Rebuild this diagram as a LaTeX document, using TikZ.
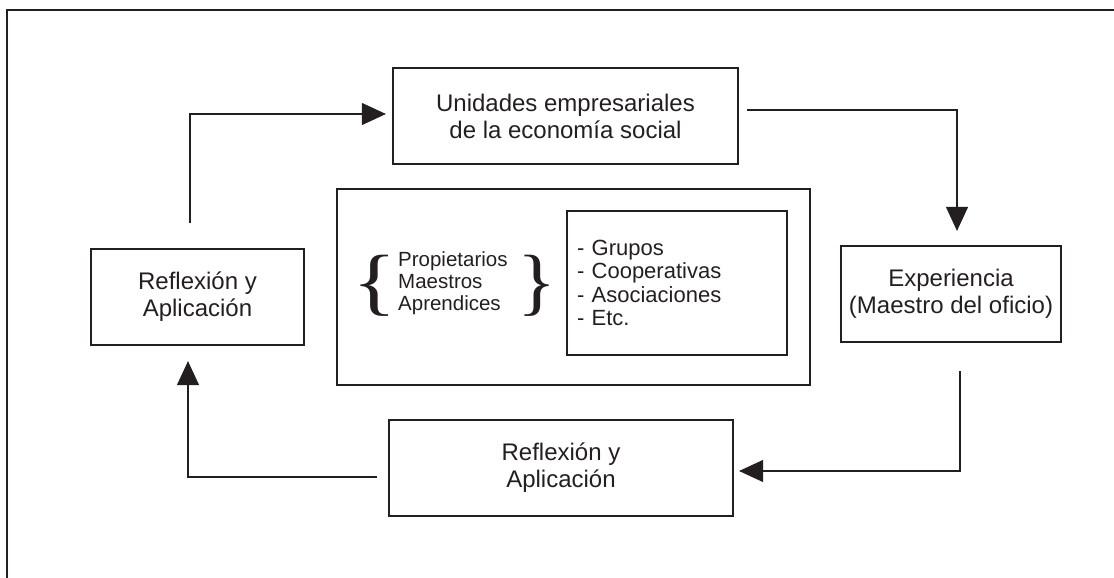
\documentclass[tikz,border=0pt]{standalone}
\usepackage{fontspec}
\usepackage{graphicx}
\setmainfont{Liberation Sans}
\newfontfamily\bracefont{Liberation Serif}
\usetikzlibrary{arrows.meta}
\definecolor{ink}{RGB}{35,31,32}
\begin{document}
\begin{tikzpicture}[x=1pt,y=-1pt,
  every node/.style={text=ink},
  boxnode/.style={draw=ink, line width=2.2pt, align=center, inner sep=0pt, font=\fontsize{24}{27}\selectfont},
  plainbox/.style={draw=ink, line width=2.2pt, inner sep=0pt},
  conn/.style={draw=ink, line width=1.1pt, -{Triangle[length=24pt,width=22pt]}},
  bracenode/.style={inner sep=0pt, font=\bracefont\fontsize{74}{74}\selectfont}]
\useasboundingbox (0,0) rectangle (1114,578);
\draw[ink, line width=2.7pt] (7,578) -- (7,10) -- (1114,10);

\node[boxnode, minimum width=345pt, minimum height=96pt] (unid) at (565.5,116) {Unidades empresariales\\de la economía social};
\node[boxnode, minimum width=213pt, minimum height=96pt] (left) at (197.5,297) {Reflexión y\\Aplicación};
\node[boxnode, minimum width=220pt, minimum height=96pt] (exp) at (951,294) {Experiencia\\(Maestro del oficio)};
\node[boxnode, minimum width=344pt, minimum height=96pt] (bot) at (561,468) {Reflexión y\\Aplicación};

\node[plainbox, minimum width=473pt, minimum height=196pt] (mid) at (573.5,287) {};
\node[plainbox, minimum width=220pt, minimum height=144pt, text width=200pt, align=left, font=\fontsize{22}{23.5}\selectfont] (list) at (677,283) {- Grupos\\- Cooperativas\\- Asociaciones\\- Etc.};

\node[anchor=west, align=left, inner sep=0pt, font=\fontsize{20.5}{22}\selectfont] (members) at (398,283) {Propietarios\\Maestros\\Aprendices};
\node[bracenode] (lbrace) at (375,286) {\scalebox{1.25}[1]{\{}};
\node[bracenode] (rbrace) at (537.5,286) {\scalebox{1.1}[1]{\}}};

\coordinate (a1) at (190,223);
\draw[conn, shorten >=6pt] (a1) |- ([yshift=2pt]unid.west);
\coordinate (b1) at (747,110);
\draw[conn, shorten >=14pt] (b1) -| ([xshift=6pt]exp.north);
\coordinate (c1) at (960,371);
\draw[conn, shorten >=5pt] (c1) |- ([yshift=-3pt]bot.east);
\draw[conn, shorten <=11pt, shorten >=15pt] ([yshift=-9pt]bot.west) -| ([xshift=-9.5pt]left.south);
\end{tikzpicture}
\end{document}
